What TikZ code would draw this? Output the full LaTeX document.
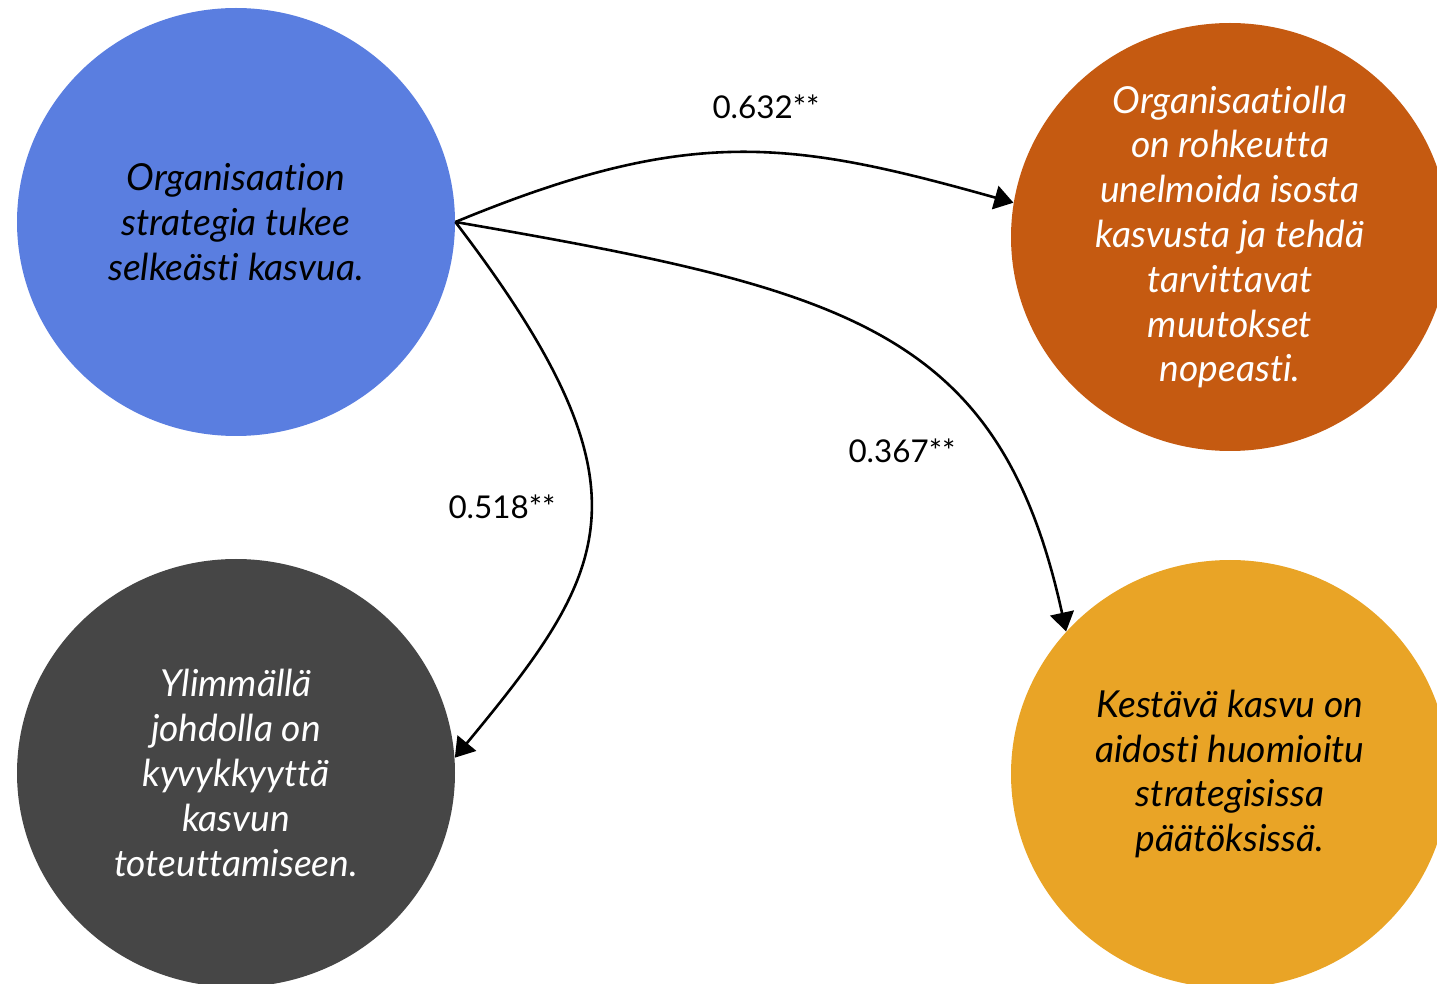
\documentclass[tikz,border=0pt]{standalone}
\usepackage{fontspec}
\setmainfont{Lato}[Ligatures=NoCommon]
\usetikzlibrary{shapes.geometric,arrows.meta}
\definecolor{cblue}{HTML}{5A7EE0}
\definecolor{corange}{HTML}{C55A11}
\definecolor{cdark}{HTML}{464646}
\definecolor{cyellow}{HTML}{E9A426}
\begin{document}
\begin{tikzpicture}[x=0.5pt,y=-0.5pt,
  bubble/.style={ellipse, minimum width=219pt, minimum height=214pt, inner sep=0pt, align=center,
    font=\itshape\fontsize{18.6}{22.4}\selectfont},
  conn/.style={line width=1.3pt, -{Triangle[length=9.5pt,width=12pt]}},
  lbl/.style={font=\fontsize{15.7}{18}\selectfont, inner sep=0pt}]
\useasboundingbox (0,0) rectangle (1437,984);
\clip (0,0) rectangle (1437,984);
\node[bubble, fill=cblue, text=black] (b) at (236,222) {Organisaation\\strategia tukee\\selkeästi kasvua.};
\node[bubble, fill=corange, text=white] (o) at (1230,237) {Organisaatiolla\\on rohkeutta\\unelmoida isosta\\kasvusta ja tehdä\\tarvittavat\\muutokset\\nopeasti.};
\node[bubble, fill=cdark, text=white] (d) at (236,773) {Ylimmällä\\johdolla on\\kyvykkyyttä\\kasvun\\toteuttamiseen.};
\node[bubble, fill=cyellow, text=black] (y) at (1230,774) {Kestävä kasvu on\\aidosti huomioitu\\strategisissa\\päätöksissä.};
\draw[conn] (b.east) .. controls (690,125) and (790,140) .. (o.171);
\draw[conn] (b.east) .. controls (850,290) and (1000,330) .. (y.139);
\draw[conn] (b.east) .. controls (660,490) and (610,570) .. (d.4);
\node[lbl] (l1) at (766,107) {0.632**};
\node[lbl] (l2) at (902,451) {0.367**};
\node[lbl] (l3) at (502,507) {0.518**};
\end{tikzpicture}
\end{document}
